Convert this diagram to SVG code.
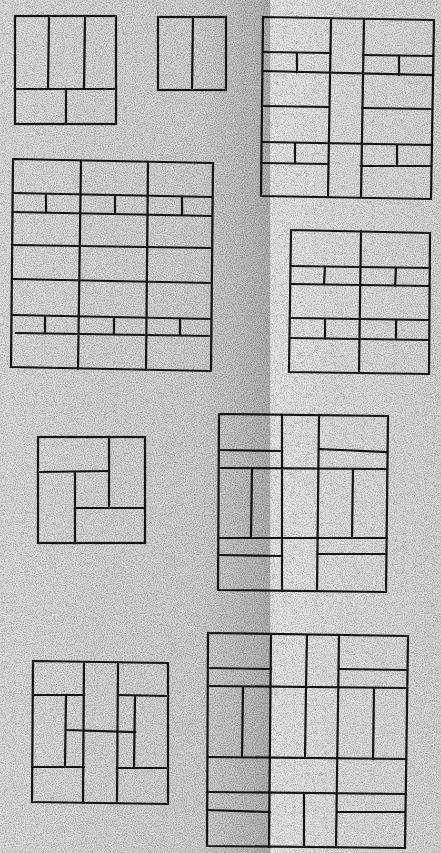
<svg xmlns="http://www.w3.org/2000/svg" width="441" height="853" viewBox="0 0 441 853">
<defs>
<linearGradient id="bg" x1="0" y1="0" x2="1" y2="0">
<stop offset="0" stop-color="#dedede"/>
<stop offset="0.45" stop-color="#d2d2d2"/>
<stop offset="0.57" stop-color="#bcbcbc"/>
<stop offset="0.612" stop-color="#b2b2b2"/>
<stop offset="0.614" stop-color="#ececec"/>
<stop offset="0.75" stop-color="#e2e2e2"/>
<stop offset="1" stop-color="#d8d8d8"/>
</linearGradient>
<filter id="noise" x="0" y="0" width="100%" height="100%">
<feTurbulence type="fractalNoise" baseFrequency="0.9" numOctaves="2" seed="3"/>
<feColorMatrix type="matrix" values="0 0 0 0 0  0 0 0 0 0  0 0 0 0 0  0 0 0 -1.6 1.0"/>
</filter>
</defs>
<style>
.plan line, .plan rect, .plan polygon { stroke: #111; stroke-width: 2.2; fill: none; stroke-linecap: square; }
</style>
<rect width="441" height="853" fill="url(#bg)"/>
<rect width="441" height="853" filter="url(#noise)" opacity="0.35"/>

<g id="plan1" class="plan">
<rect x="15" y="16" width="101" height="108"/>
<line x1="49" y1="16" x2="48" y2="89"/>
<line x1="85" y1="16" x2="84" y2="89"/>
<line x1="15" y1="89" x2="116" y2="89"/>
<line x1="66" y1="89" x2="66" y2="124"/>
</g>

<g id="plan2" class="plan">
<rect x="158" y="17" width="68" height="73"/>
<line x1="193" y1="17" x2="192" y2="90"/>
</g>

<g id="plan3" class="plan">
<polygon points="263,17 434,20 431,199 261,196"/>
<line x1="331" y1="18" x2="328" y2="196"/>
<line x1="364" y1="19" x2="361" y2="197"/>
<line x1="263" y1="52" x2="330" y2="53"/>
<line x1="297" y1="53" x2="297" y2="72"/>
<line x1="363" y1="55" x2="433" y2="56"/>
<line x1="399" y1="56" x2="399" y2="75"/>
<line x1="263" y1="71" x2="433" y2="75"/>
<line x1="262" y1="106" x2="329" y2="107"/>
<line x1="362" y1="108" x2="432" y2="109"/>
<line x1="262" y1="142" x2="432" y2="145"/>
<line x1="295" y1="143" x2="295" y2="163"/>
<line x1="397" y1="145" x2="397" y2="165"/>
<line x1="262" y1="163" x2="328" y2="164"/>
<line x1="361" y1="166" x2="431" y2="166"/>
</g>

<g id="plan4" class="plan">
<polygon points="13,159 213,163 211,371 11,367"/>
<line x1="81" y1="161" x2="78" y2="369"/>
<line x1="148" y1="162" x2="146" y2="370"/>
<line x1="13" y1="193" x2="212" y2="197"/>
<line x1="13" y1="212" x2="212" y2="216"/>
<line x1="46" y1="195" x2="46" y2="212"/>
<line x1="115" y1="196" x2="115" y2="213"/>
<line x1="182" y1="197" x2="182" y2="214"/>
<line x1="13" y1="245" x2="211" y2="248"/>
<line x1="13" y1="279" x2="211" y2="283"/>
<line x1="13" y1="315" x2="211" y2="319"/>
<line x1="16" y1="333" x2="211" y2="336"/>
<line x1="45" y1="317" x2="45" y2="333"/>
<line x1="114" y1="318" x2="114" y2="334"/>
<line x1="180" y1="319" x2="180" y2="335"/>
</g>

<g id="plan5" class="plan">
<polygon points="291,230 430,233 429,374 289,372"/>
<line x1="361" y1="231" x2="359" y2="373"/>
<line x1="291" y1="266" x2="430" y2="268"/>
<line x1="291" y1="284" x2="429" y2="286"/>
<line x1="325" y1="267" x2="324" y2="284"/>
<line x1="396" y1="268" x2="395" y2="286"/>
<line x1="290" y1="318" x2="429" y2="320"/>
<line x1="290" y1="338" x2="429" y2="340"/>
<line x1="325" y1="319" x2="325" y2="338"/>
<line x1="396" y1="320" x2="396" y2="339"/>
</g>

<g id="plan6" class="plan">
<rect x="38" y="437" width="107" height="106"/>
<line x1="38" y1="472" x2="109" y2="471"/>
<line x1="109" y1="437" x2="109" y2="508"/>
<line x1="75" y1="508" x2="145" y2="508"/>
<line x1="75" y1="472" x2="75" y2="543"/>
</g>

<g id="plan7" class="plan">
<polygon points="219,414 388,416 386,592 218,590"/>
<line x1="282" y1="415" x2="282" y2="591"/>
<line x1="319" y1="415" x2="317" y2="591"/>
<line x1="219" y1="450" x2="282" y2="451"/>
<line x1="319" y1="449" x2="387" y2="452"/>
<line x1="219" y1="468" x2="387" y2="469"/>
<line x1="252" y1="469" x2="251" y2="537"/>
<line x1="353" y1="469" x2="352" y2="537"/>
<line x1="219" y1="538" x2="387" y2="538"/>
<line x1="219" y1="555" x2="282" y2="556"/>
<line x1="318" y1="554" x2="386" y2="554"/>
</g>

<g id="plan8" class="plan">
<polygon points="33,661 168,663 168,804 32,802"/>
<line x1="84" y1="662" x2="83" y2="803"/>
<line x1="118" y1="662" x2="117" y2="803"/>
<line x1="33" y1="695" x2="84" y2="695"/>
<line x1="66" y1="695" x2="65" y2="767"/>
<line x1="66" y1="730" x2="135" y2="732"/>
<line x1="32" y1="767" x2="84" y2="767"/>
<line x1="118" y1="695" x2="168" y2="696"/>
<line x1="135" y1="696" x2="134" y2="768"/>
<line x1="117" y1="768" x2="168" y2="768"/>
</g>

<g id="plan9" class="plan">
<polygon points="208,633 408,636 405,848 207,846"/>
<line x1="271" y1="634" x2="269" y2="847"/>
<line x1="339" y1="635" x2="336" y2="847"/>
<line x1="208" y1="668" x2="271" y2="669"/>
<line x1="307" y1="635" x2="306" y2="687"/>
<line x1="339" y1="669" x2="407" y2="670"/>
<line x1="208" y1="686" x2="407" y2="688"/>
<line x1="243" y1="688" x2="242" y2="757"/>
<line x1="306" y1="688" x2="305" y2="758"/>
<line x1="374" y1="689" x2="373" y2="759"/>
<line x1="208" y1="757" x2="406" y2="759"/>
<line x1="208" y1="792" x2="406" y2="794"/>
<line x1="304" y1="794" x2="304" y2="847"/>
<line x1="207" y1="810" x2="270" y2="812"/>
<line x1="338" y1="812" x2="405" y2="812"/>
</g>
</svg>
